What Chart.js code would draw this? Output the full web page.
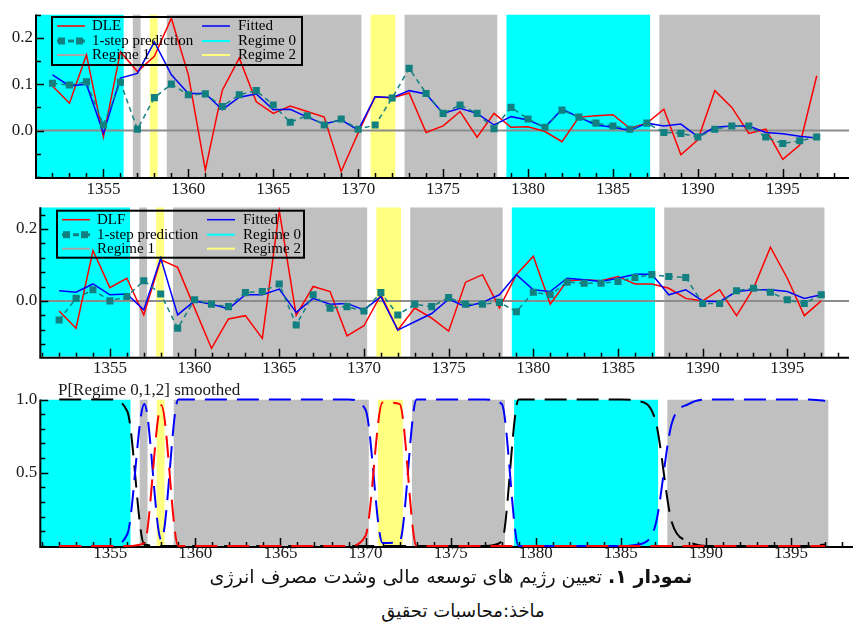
<!DOCTYPE html>
<html><head><meta charset="utf-8">
<script src="https://cdn.jsdelivr.net/npm/chart.js@4.4.0/dist/chart.umd.min.js"></script>
<style>
html,body{margin:0;padding:0;background:#fff;width:854px;height:625px;overflow:hidden;position:relative;}
canvas{position:absolute;left:0;}
#c1{top:0;} #c2{top:190px;} #c3{top:380px;}
.cap{position:absolute;left:0;width:854px;text-align:center;font-family:'DejaVu Sans';color:#111;direction:rtl;white-space:nowrap;}
#cap1{top:565px;font-size:19px;left:24px;}
#cap2{top:600px;font-size:18px;left:36px;}
</style></head>
<body>
<canvas id="c1" width="854" height="200"></canvas>
<canvas id="c2" width="854" height="190"></canvas>
<canvas id="c3" width="854" height="185"></canvas>
<div class="cap" id="cap1"><b>نمودار ۱.</b> تعیین رژیم های توسعه مالی وشدت مصرف انرژی</div>
<div class="cap" id="cap2">ماخذ:محاسبات تحقیق</div>
<script>
// ---------------- data ----------------
const years = [1352,1353,1354,1355,1356,1357,1358,1359,1360,1361,1362,1363,1364,1365,1366,1367,1368,1369,1370,1371,1372,1373,1374,1375,1376,1377,1378,1379,1380,1381,1382,1383,1384,1385,1386,1387,1388,1389,1390,1391,1392,1393,1394,1395,1396,1397];

const DLE      = [0.096,0.059,0.163,-0.014,0.170,0.127,0.160,0.242,0.120,-0.085,0.087,0.156,0.062,0.037,0.053,0.041,0.029,-0.088,-0.005,0.073,0.070,0.081,-0.004,0.010,0.041,-0.014,0.037,0.007,0.008,-0.002,-0.024,0.029,0.032,0.034,0.005,0.016,0.046,-0.052,-0.020,0.086,0.050,-0.006,0.003,-0.062,-0.031,0.118];
const DLE_fit  = [0.120,0.096,0.100,-0.006,0.113,0.123,0.191,0.120,0.080,0.080,0.045,0.072,0.079,0.045,0.046,0.029,0.014,0.023,0.001,0.073,0.071,0.086,0.079,0.037,0.048,0.037,0.012,0.030,0.023,0.007,0.046,0.029,0.012,0.007,0.000,0.016,0.010,0.014,-0.013,0.007,0.010,0.010,-0.004,-0.007,-0.012,-0.016];
const DLE_pred = [0.102,0.098,0.105,0.012,0.104,0.003,0.071,0.100,0.077,0.079,0.052,0.077,0.086,0.055,0.018,0.032,0.012,0.025,0.003,0.012,0.070,0.134,0.080,0.037,0.055,0.037,0.004,0.050,0.025,0.007,0.044,0.029,0.016,0.010,0.003,0.016,-0.004,-0.006,-0.014,0.003,0.010,0.010,-0.014,-0.028,-0.022,-0.014];

const DLF      = [-0.028,-0.076,0.140,0.037,0.063,-0.039,0.114,0.093,-0.020,-0.132,-0.050,-0.041,-0.104,0.251,-0.040,0.040,0.026,-0.097,-0.069,0.017,-0.081,-0.020,-0.048,-0.084,0.052,0.073,-0.019,0.073,0.124,-0.009,0.056,0.059,0.056,0.068,0.047,0.047,0.035,0.007,0.000,0.031,-0.041,0.035,0.149,0.063,-0.041,0.000];
const DLF_fit  = [0.028,0.024,0.047,0.017,0.019,-0.025,0.119,-0.039,0.000,-0.009,-0.022,0.017,0.017,0.033,-0.032,0.007,-0.009,-0.007,-0.025,0.012,-0.081,-0.058,-0.035,0.005,-0.016,-0.004,0.017,0.073,0.031,0.026,0.063,0.059,0.054,0.063,0.074,0.074,0.017,0.031,0.000,-0.002,0.026,0.031,0.031,0.026,0.007,0.017];
const DLF_pred = [-0.053,0.007,0.031,0.000,0.012,0.056,0.019,-0.076,0.003,-0.009,-0.016,0.023,0.026,0.047,-0.067,0.017,-0.020,-0.016,-0.028,0.023,-0.039,-0.009,-0.016,0.009,-0.009,-0.009,-0.004,-0.030,0.024,0.017,0.052,0.049,0.049,0.054,0.065,0.073,0.068,0.065,-0.007,-0.007,0.028,0.035,0.024,0.003,-0.007,0.017];

const P_regime0 = [1,1,1,1,0.92,0.01,0,0,0,0,0,0,0,0,0,0,0,0,0,0,0,0,0,0,0,0,0.03,1,1,1,1,1,1,1,0.99,0.87,0.16,0.03,0,0,0,0,0,0,0,0.01];
const P_regime1 = [0,0,0,0,0.08,0.97,0.04,1,1,1,1,1,1,1,1,1,1,1,0.93,0.02,0.03,1,1,1,1,1,0.97,0,0,0,0,0,0,0,0.01,0.13,0.84,0.97,1,1,1,1,1,1,1,0.99];
const P_regime2 = [0,0,0,0,0,0.02,0.96,0,0,0,0,0,0,0,0,0,0,0,0.07,0.98,0.97,0,0,0,0,0,0,0,0,0,0,0,0,0,0,0,0,0,0,0,0,0,0,0,0,0];

const regimeStart = [1351,1357,1358,1359,1371,1373,1379,1388];
const regimeEnd   = [1356,1357,1358,1370,1372,1378,1387,1397];
const regimeOf    = [0,1,2,1,2,1,0,1];

const xTickLabels  = ['1355','1360','1365','1370','1375','1380','1385','1390','1395'];
const yTickLabels1 = ['0.0','0.1','0.2'];
const yTickLabels2 = ['0.0','0.2'];
const yTickLabels3 = ['0.5','1.0'];

const legendNames1 = ['DLE','1-step prediction','Regime 1','Fitted','Regime 0','Regime 2'];
const legendNames2 = ['DLF','1-step prediction','Regime 1','Fitted','Regime 0','Regime 2'];
const panel3Title = 'P[Regime 0,1,2] smoothed';

// ---------------- styling ----------------
const REGIME_COLORS = ['#00ffff','#c0c0c0','#ffff80'];
const SERIF = '"Liberation Serif", "Times New Roman", serif';
const TXT = '#1a1a1a';

function pts(vals){ return years.map((yr,i)=>({x:yr,y:vals[i]})); }

const panelPlugin = {
  id: 'panel',
  beforeDatasetsDraw(chart){
    const o = chart.options.plugins.panel;
    const {ctx, chartArea:a, scales:{x, y}} = chart;
    ctx.save();
    ctx.beginPath(); ctx.rect(a.left, a.top, a.right-a.left, a.bottom-a.top); ctx.clip();
    regimeStart.forEach((s,i)=>{
      const x0 = x.getPixelForValue(s - 0.27), x1 = x.getPixelForValue(regimeEnd[i] + 0.19);
      ctx.fillStyle = REGIME_COLORS[regimeOf[i]];
      ctx.fillRect(x0, a.top, x1-x0, a.bottom-a.top);
    });
    if (o.zeroLine){
      const y0 = y.getPixelForValue(0);
      ctx.strokeStyle = '#8c8c8c'; ctx.lineWidth = 2;
      ctx.beginPath(); ctx.moveTo(a.left, y0); ctx.lineTo(a.right, y0); ctx.stroke();
    }
    ctx.restore();
    // axes
    ctx.save();
    ctx.strokeStyle = '#000'; ctx.lineWidth = 2;
    ctx.beginPath(); ctx.moveTo(a.left, a.top); ctx.lineTo(a.left, a.bottom+1); ctx.lineTo(a.right, a.bottom+1); ctx.stroke();
    ctx.lineWidth = 1.5; ctx.beginPath();
    for (let yr = Math.ceil(x.min); yr <= Math.floor(x.max); yr++){
      const px = Math.round(x.getPixelForValue(yr)) + 0.5;
      const len = yr % 5 === 0 ? 8 : 4;
      ctx.moveTo(px, a.bottom); ctx.lineTo(px, a.bottom - len);
    }
    const st = o.yMinorStep;
    for (let k = Math.ceil(y.min/st - 1e-9); k*st <= y.max + 1e-9; k++){
      const v = k*st;
      const major = o.yLabels.some(l => Math.abs(parseFloat(l) - v) < 1e-6);
      const py = Math.round(y.getPixelForValue(v)) + 0.5;
      ctx.moveTo(a.left, py); ctx.lineTo(a.left + (major ? 8 : 5), py);
    }
    ctx.stroke();
    ctx.restore();
  },
  afterDatasetsDraw(chart){
    const o = chart.options.plugins.panel;
    const ctx = chart.ctx;
    if (o.legend){
      const L = o.legend, n = L.names;
      ctx.save();
      ctx.font = '15px ' + SERIF; ctx.textBaseline = 'middle'; ctx.fillStyle = '#000';
      const rows = [9, 24, 38];
      const cols = [{s:5, e:33, t:40}, {s:150, e:178, t:186}];
      const styles = ['red','pred','reg1','blue','reg0','reg2'];
      styles.forEach((st, i) => {
        const c = cols[Math.floor(i/3)], ry = L.y + rows[i%3];
        const xs = L.x + c.s, xe = L.x + c.e;
        ctx.save();
        ctx.lineWidth = 2;
        if (st === 'red'){ ctx.strokeStyle = '#ff0000'; ctx.lineWidth = 1.5; }
        if (st === 'blue'){ ctx.strokeStyle = '#0000ff'; ctx.lineWidth = 1.5; }
        if (st === 'reg0') ctx.strokeStyle = '#00ffff';
        if (st === 'reg1') ctx.strokeStyle = '#a8a8a8';
        if (st === 'reg2') ctx.strokeStyle = '#ffff80';
        if (st === 'pred'){ ctx.strokeStyle = '#128080'; ctx.lineWidth = 3; ctx.setLineDash([6,5]); }
        ctx.beginPath(); ctx.moveTo(xs, ry); ctx.lineTo(xe, ry); ctx.stroke();
        if (st === 'pred'){
          ctx.fillStyle = '#128080';
          ctx.fillRect(xs + 1, ry - 3.5, 7, 7);
          ctx.fillRect(xs + 19, ry - 3.5, 7, 7);
        }
        ctx.restore();
        ctx.fillText(n[i], L.x + c.t, ry);
      });
      ctx.strokeStyle = '#000'; ctx.lineWidth = 2;
      ctx.strokeRect(L.x, L.y, L.w, L.h);
      ctx.restore();
    }
    if (o.title){
      ctx.save();
      ctx.font = '17px ' + SERIF; ctx.fillStyle = TXT; ctx.textBaseline = 'alphabetic';
      ctx.fillText(o.title.text, o.title.x, o.title.y);
      ctx.restore();
    }
  }
};

function labelCb(list){
  return function(v){
    const hit = list.find(l => Math.abs(parseFloat(l) - v) < 1e-6);
    return hit ? hit : '';
  };
}

function makeChart(id, datasets, p){
  return new Chart(document.getElementById(id), {
    type: 'line',
    data: { datasets },
    plugins: [panelPlugin],
    options: {
      responsive: false, animation: false, devicePixelRatio: 1, events: [],
      layout: { padding: { top: p.top, right: 1, left: 0, bottom: 0 } },
      plugins: {
        legend: { display: false }, tooltip: { enabled: false },
        panel: { zeroLine: p.zeroLine, yMinorStep: p.yMinorStep, yLabels: p.yLabels, legend: p.legend, title: p.title }
      },
      scales: {
        x: {
          type: 'linear', min: p.xMin, max: p.xMax,
          grid: { display: false, drawTicks: false }, border: { display: false },
          ticks: { autoSkip: false, maxRotation: 0, padding: p.xPad, color: TXT,
                   font: { family: SERIF, size: 17 }, callback: labelCb(xTickLabels) },
          afterBuildTicks: s => { s.ticks = xTickLabels.map(l => ({ value: parseFloat(l) })); },
          afterFit: s => { s.height = p.xH; }
        },
        y: {
          type: 'linear', min: p.yMin, max: p.yMax,
          grid: { display: false, drawTicks: false }, border: { display: false },
          ticks: { autoSkip: false, padding: 3, color: TXT,
                   font: { family: SERIF, size: 17 }, callback: labelCb(p.yLabels) },
          afterBuildTicks: s => { s.ticks = p.yLabels.map(l => ({ value: parseFloat(l) })); },
          afterFit: s => { s.width = p.yW; }
        }
      }
    }
  });
}

function dataSets(obs, fit, pred){
  return [
    { data: pts(pred), borderColor: '#128080', backgroundColor: '#128080', borderWidth: 1.5, borderDash: [5,4],
      pointStyle: 'rect', pointRadius: 5, pointBorderWidth: 0, order: 0 },
    { data: pts(fit), borderColor: '#0000ff', borderWidth: 1.5, pointRadius: 0, order: 1 },
    { data: pts(obs), borderColor: '#ff0000', borderWidth: 1.5, pointRadius: 0, order: 2 }
  ];
}

makeChart('c1', dataSets(DLE, DLE_fit, DLE_pred), {
  top: 14.5, xH: 23, yW: 36, xMin: 1351.03, xMax: 1398.9, yMin: -0.1, yMax: 0.25,
  yMinorStep: 0.05, yLabels: yTickLabels1, zeroLine: true, xPad: 2,
  legend: { x: 52, y: 17, w: 250, h: 48, names: legendNames1 }
});

makeChart('c2', dataSets(DLF, DLF_fit, DLF_pred), {
  top: 17.3, xH: 23.3, yW: 40.3, xMin: 1350.89, xMax: 1398.64, yMin: -0.155, yMax: 0.26,
  yMinorStep: 0.04, yLabels: yTickLabels2, zeroLine: true, xPad: 2,
  legend: { x: 57, y: 20.7, w: 247, h: 47, names: legendNames2 }
});

const probDs = (vals, col, ord) => ({ data: pts(vals), borderColor: col, borderWidth: 2, borderDash: [22,10],
  pointRadius: 0, cubicInterpolationMode: 'monotone', clip: 3, order: ord });

makeChart('c3', [probDs(P_regime2, '#ff0000', 0), probDs(P_regime1, '#0000ff', 1), probDs(P_regime0, '#000000', 2)], {
  top: 19.5, xH: 19, yW: 40.3, xMin: 1350.89, xMax: 1398.64, yMin: 0, yMax: 1,
  yMinorStep: 0.1, yLabels: yTickLabels3, zeroLine: false, xPad: -3,
  title: { text: panel3Title, x: 58, y: 15 }
});
</script>
</body></html>
